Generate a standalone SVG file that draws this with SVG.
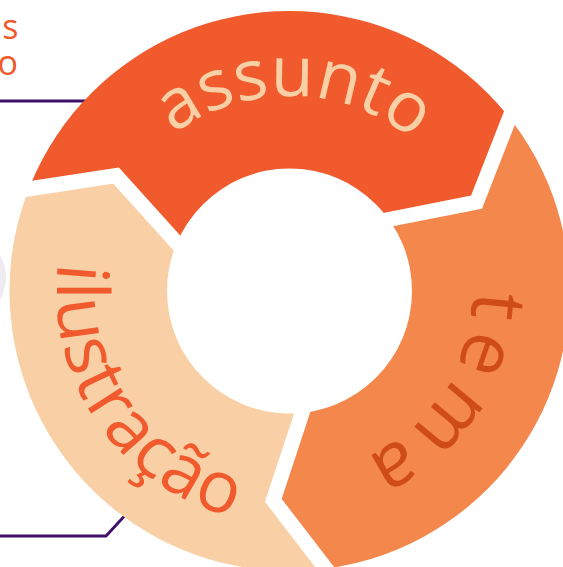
<svg xmlns="http://www.w3.org/2000/svg" xmlns:xlink="http://www.w3.org/1999/xlink" width="563" height="567" viewBox="0 0 563 567">
  <style>
    .lbl { font-family: "Open Sans", "Liberation Sans", sans-serif; font-weight: 500; }
    .side { font-family: "Open Sans", "Liberation Sans", sans-serif; font-weight: 400; font-size: 34px; fill: #F15A2D; }
    .conn { fill: none; stroke: #3E0F6B; stroke-width: 2.8; }
    .sep { fill: none; stroke: #FFFFFF; stroke-width: 15; stroke-linejoin: miter; stroke-miterlimit: 10; }
  </style>
  <defs>
    <clipPath id="ring">
      <path clip-rule="evenodd" d="M9.5,291 a280,280 0 1,0 560,0 a280,280 0 1,0 -560,0 Z M167,291 a122.5,122.5 0 1,0 245,0 a122.5,122.5 0 1,0 -245,0 Z"/>
    </clipPath>
    <path id="pA" d="M94.5,291 A195,195 0 0 1 484.5,291"/>
    <path id="pT" d="M289.5,108 A183,183 0 0 1 289.5,474"/>
    <path id="pI" d="M289.5,58 A233,233 0 0 0 289.5,524"/>
  </defs>
  <rect width="563" height="567" fill="#FFFFFF"/>

  <g id="partial-text">
    <text class="side" x="18.5" y="39" text-anchor="end">s</text>
    <text class="side" x="18" y="75" text-anchor="end">o</text>
  </g>

  <circle id="side-shape" cx="-39" cy="277.5" r="45" fill="#EEEBF2"/>

  <g id="connectors">
    <path class="conn" d="M0,101 H95"/>
    <path class="conn" d="M0,536 H106 L130,510"/>
  </g>

  <g clip-path="url(#ring)">
    <g id="node-assunto">
      <polygon fill="#F15A2D" points="196.5,264.7 116,175.5 8.5,192 65,-98.7 289.5,-159 514.5,-98.7 518.4,95 476.5,202.2 363.3,224.5 289.5,291"/>
    </g>
    <g id="node-tema">
      <polygon fill="#F4874C" points="363.3,224.5 476.5,202.2 518.4,95 679.2,66 739.5,291 679.2,516 514.5,680.7 340,587 273.3,500.3 310,389 289.5,291"/>
    </g>
    <g id="node-ilustracao">
      <polygon fill="#F9D0A6" points="310,389 273.3,500.3 340,587 64.5,680.7 -100.2,516 -160.5,291 8.5,192 116,175.5 196.5,264.7 289.5,291"/>
    </g>
  </g>

  <g id="separators">
    <polyline class="sep" points="8.5,192 116,175.5 196.5,264.7"/>
    <polyline class="sep" points="518.4,95 476.5,202.2 363.3,224.5"/>
    <polyline class="sep" points="310,389 273.3,500.3 340,587"/>
  </g>

  <g id="labels">
    <text class="lbl" font-size="70" fill="#F9D0A6" text-anchor="middle" letter-spacing="0"><textPath xlink:href="#pA" href="#pA" startOffset="311">assunto</textPath></text>
    <text class="lbl" font-size="76" fill="#CF4B18" text-anchor="middle" letter-spacing="9"><textPath xlink:href="#pT" href="#pT" startOffset="396">tema</textPath></text>
    <text class="lbl" font-size="72" fill="#F15A2D" text-anchor="middle" letter-spacing="1"><textPath xlink:href="#pI" href="#pI" startOffset="506">ilustração</textPath></text>
  </g>
</svg>
